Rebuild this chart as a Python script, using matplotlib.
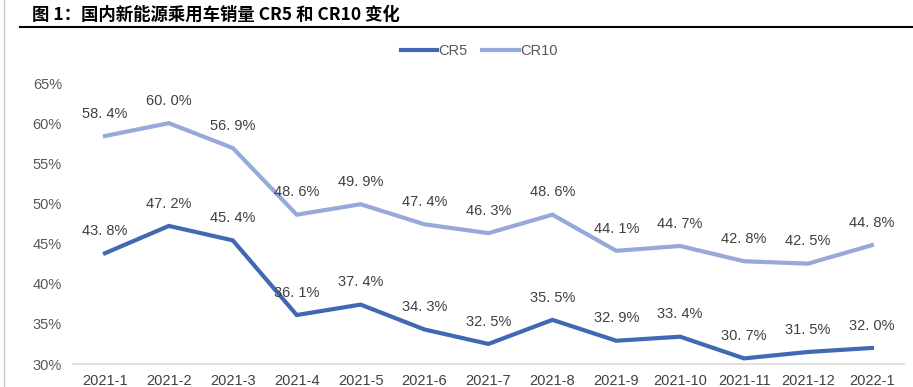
import matplotlib
matplotlib.use("Agg")
import matplotlib.pyplot as plt
from matplotlib.lines import Line2D

plt.rcParams['font.family'] = ['Noto Sans CJK SC', 'DejaVu Sans']

months = ["2021-1", "2021-2", "2021-3", "2021-4", "2021-5", "2021-6", "2021-7",
          "2021-8", "2021-9", "2021-10", "2021-11", "2021-12", "2022-1"]
cr5 = [43.8, 47.2, 45.4, 36.1, 37.4, 34.3, 32.5, 35.5, 32.9, 33.4, 30.7, 31.5, 32.0]
cr10 = [58.4, 60.0, 56.9, 48.6, 49.9, 47.4, 46.3, 48.6, 44.1, 44.7, 42.8, 42.5, 44.8]
yticks = [30, 35, 40, 45, 50, 55, 60, 65]

c5 = "#4169b2"
c10 = "#97a8da"
txt = "#404040"
num_font = ['Liberation Sans', 'DejaVu Sans']

fig = plt.figure(figsize=(9.13, 3.87), dpi=100)
ax = fig.add_axes([0.080, 0.0594, 0.910, 0.7261])

x = list(range(len(months)))
ax.plot(x, cr5, color=c5, lw=3, solid_joinstyle="miter")
ax.plot(x, cr10, color=c10, lw=3, solid_joinstyle="miter")

for i in x:
    ax.annotate(f"{cr5[i]:.1f}%".replace(".", ". "), (i, cr5[i]), xytext=(0, 11),
                textcoords="offset points", ha="center", va="bottom",
                fontsize=10.5, color=txt, family=num_font)
    ax.annotate(f"{cr10[i]:.1f}%".replace(".", ". "), (i, cr10[i]), xytext=(0, 11),
                textcoords="offset points", ha="center", va="bottom",
                fontsize=10.5, color=txt, family=num_font)

ax.set_xlim(-0.5, len(months) - 0.5)
ax.set_ylim(30, 65)
ax.set_yticks(yticks)
ax.set_yticklabels([f"{v}%" for v in yticks], fontsize=10.5, color="#595959",
                   family=num_font)
ax.set_xticks(x)
ax.set_xticklabels(months, fontsize=10.5, color="#404040", family=num_font)
ax.tick_params(length=0)
ax.tick_params(axis="x", pad=7)
ax.tick_params(axis="y", pad=8)
for s in ["top", "right", "left"]:
    ax.spines[s].set_visible(False)
ax.spines["bottom"].set_color("#d9d9d9")
ax.spines["bottom"].set_linewidth(1.2)

handles = [Line2D([], [], color=c5, lw=3), Line2D([], [], color=c10, lw=3)]
fig.legend(handles, ["CR5", "CR10"], loc="center", bbox_to_anchor=(0.525, 0.867),
           ncol=2, frameon=False, prop={'family': num_font, 'size': 10.5},
           handlelength=2.5, handletextpad=0.1, columnspacing=1.0,
           labelcolor="#595959")

fig.text(0.035, 0.962, "图 1：国内新能源乘用车销量 CR5 和 CR10 变化", fontsize=12.5,
         fontweight="bold", ha="left", va="center", color="black")
fig.add_artist(Line2D([0.022, 1.0], [0.930, 0.930], color="black", lw=1.5))
fig.add_artist(Line2D([0.004, 0.004], [0.0, 1.0], color="#c8c8c8", lw=1))

fig.savefig("out.png", dpi=100)
